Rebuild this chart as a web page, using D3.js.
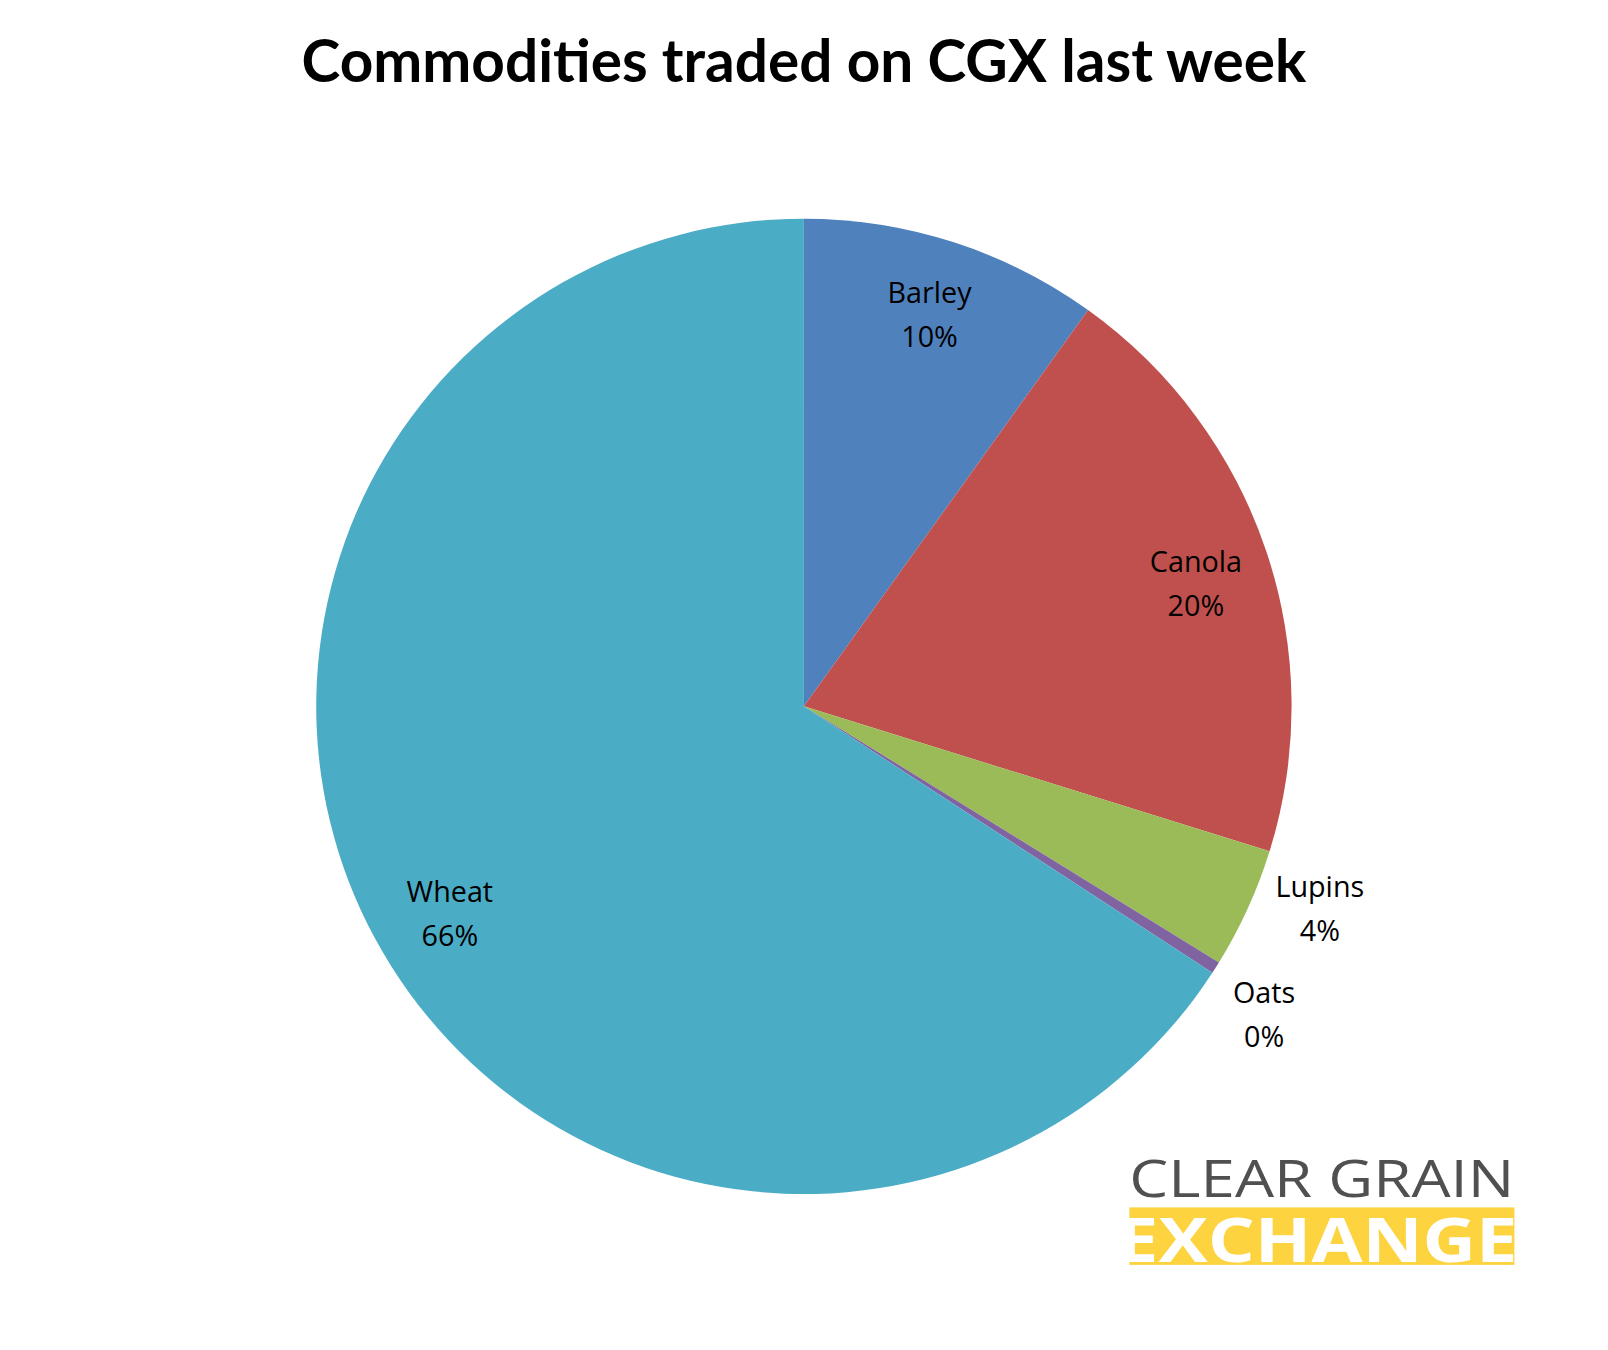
<!DOCTYPE html>
<html><head><meta charset="utf-8">
<script src="https://cdn.jsdelivr.net/npm/d3@7/dist/d3.min.js"></script>
<style>html,body{margin:0;background:#fff;overflow:hidden}svg{display:block}</style></head>
<body><svg id="c" width="1608" height="1350"></svg>
<script>
const categories = ["Barley","Canola","Lupins","Oats","Wheat"];
const values = [9.9, 19.9, 4.0, 0.4, 65.8];
const labels = ["10%","20%","4%","0%","66%"];
const colors = ["#4F81BD","#C0504D","#9BBB59","#8064A2","#4BACC6"];
const outside = [false,false,true,true,false];
const angleShift = [0,1.2,-3,1.5,-2];

const root = d3.select("#c").append("g").attr("transform","scale(1.0267)");
const svg = root;
const cx = 783, cy = 688, R = 475;
svg.append("text").attr("x",783).attr("y",80).attr("text-anchor","middle")
  .attr("font-family","Lato, 'Open Sans', sans-serif").attr("font-weight","bold")
  .attr("font-size",57).text("Commodities traded on CGX last week");

const pie = d3.pie().sort(null).value(d=>d)(values);
const arc = d3.arc().innerRadius(0).outerRadius(R);
const g = svg.append("g").attr("transform",`translate(${cx},${cy})`);
g.selectAll("path").data(pie).join("path").attr("d",arc).attr("fill",(d,i)=>colors[i]);
pie.forEach((d,i)=>{
  const r = outside[i] ? 540 : 400;
  const a = (d.startAngle + d.endAngle)/2 + angleShift[i]*Math.PI/180;
  const x = r*Math.sin(a), y = -r*Math.cos(a);
  const t = g.append("text").attr("text-anchor","middle").attr("font-family","'Open Sans', sans-serif")
    .attr("font-size",28).attr("fill","#000");
  t.append("tspan").attr("x",x).attr("y",y-12).text(categories[i]);
  t.append("tspan").attr("x",x).attr("y",y+31).text(labels[i]);
});

// logo
svg.append("text").attr("x",1100).attr("y",1166).attr("font-family","'Open Sans', sans-serif")
  .attr("font-size",50).attr("fill","#505050").attr("textLength",375).attr("lengthAdjust","spacingAndGlyphs")
  .text("CLEAR GRAIN");
svg.append("rect").attr("x",1100).attr("y",1176).attr("width",375).attr("height",56).attr("fill","#FDD33F");
svg.append("text").attr("x",1088).attr("y",1229).attr("font-family","'Open Sans', sans-serif").attr("font-weight","bold")
  .attr("font-size",60).attr("fill","#fff").attr("textLength",390).attr("lengthAdjust","spacingAndGlyphs")
  .text("EXCHANGE");
</script></body></html>
